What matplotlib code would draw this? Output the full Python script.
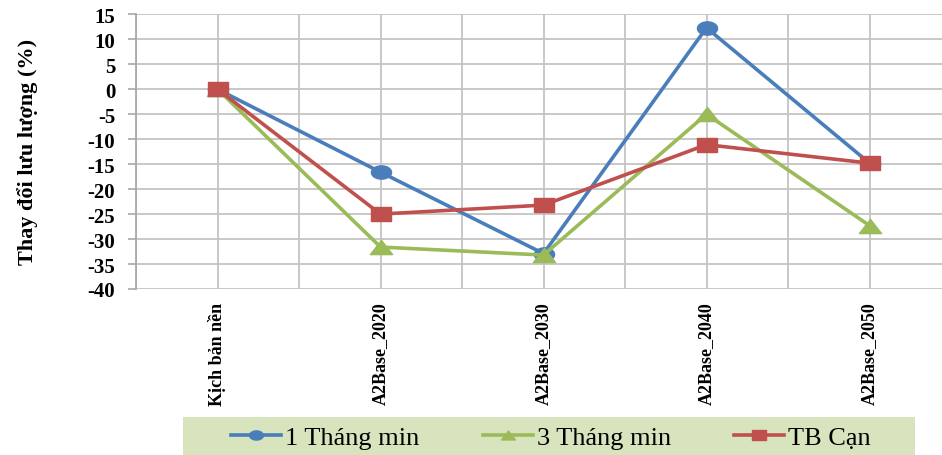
import numpy as np
import matplotlib
matplotlib.use("Agg")
import matplotlib.pyplot as plt
from matplotlib.path import Path

plt.rcParams['font.family'] = ['Liberation Serif', 'DejaVu Serif']
plt.rcParams['axes.unicode_minus'] = False

# kịch bản và thay đổi lưu lượng (%)
scenarios = ["Kịch bản nền", "A2Base_2020", "A2Base_2030", "A2Base_2040", "A2Base_2050"]
thang1_min = [0, -16.6, -32.9, 12.3, -14.8]
thang3_min = [0, -31.6, -33.2, -5.0, -27.3]
tb_can = [0, -25.0, -23.2, -11.1, -14.8]

series_names = ["1 Tháng min", "3 Tháng min", "TB Cạn"]
colors = ["#4a7ebb", "#9bbb59", "#c0504d"]

# marker dẹt theo chiều ngang
t = np.linspace(0, 2 * np.pi, 40)
ellipse = Path(np.column_stack([np.cos(t), 0.66 * np.sin(t)]), closed=True)
rect = Path([(-1, -0.68), (1, -0.68), (1, 0.68), (-1, 0.68), (-1, -0.68)], closed=True)
tri = Path([(-1, -0.64), (1, -0.64), (0, 0.64), (-1, -0.64)], closed=True)
markers = [ellipse, tri, rect]
msizes = [14.5, 16, 14.5]

fig = plt.figure(figsize=(9.42, 4.56), dpi=100)
ax = fig.add_axes([136 / 942, 1 - 290 / 456, 815 / 942, 274.7 / 456])

x = np.arange(len(scenarios))
for vals, name, c, m, ms in zip([thang1_min, thang3_min, tb_can], series_names, colors, markers, msizes):
    ax.plot(x, vals, color=c, lw=2.6, marker=m, markersize=ms, label=name, clip_on=False)

ax.set_xlim(-0.5, len(scenarios) - 0.5)
ax.set_ylim(-40, 15)
ax.set_yticks(np.arange(-40, 16, 5))
ax.set_xticks(x)
ax.set_xticks(np.arange(-0.5, len(scenarios), 1), minor=True)
ax.set_xticklabels(scenarios, rotation=90, fontsize=13, fontweight='bold', va='top', ha='center')
for lbl in ax.get_yticklabels():
    lbl.set_fontweight('bold')
    lbl.set_fontsize(15)

ax.grid(True, which='both', color='#c4c4c4', lw=1.3)
ax.set_axisbelow(True)
for s in ['top', 'right', 'bottom']:
    ax.spines[s].set_visible(False)
ax.spines['left'].set_color('#a8a8a8')
ax.spines['left'].set_linewidth(1.3)
ax.tick_params(axis='y', length=6, color='#a8a8a8', width=1.2, pad=9)
ax.tick_params(axis='x', which='both', length=0, pad=9)

fig.text(28 / 942, 1 - 152 / 456, "Thay đổi lưu lượng (%)", rotation=90,
         fontsize=16, fontweight='bold', ha='center', va='center')

# chú thích nền xanh nhạt phía dưới
fig.patches.append(plt.Rectangle((183 / 942, 0), (915 - 183) / 942, 38 / 456,
                                 transform=fig.transFigure, facecolor='#d7e4bd',
                                 edgecolor='none', zorder=0))
handles, labels = ax.get_legend_handles_labels()
leg = fig.legend(handles, labels, loc='center', bbox_to_anchor=(551 / 942, 18 / 456),
                 ncol=3, frameon=False, fontsize=19, handlelength=1.9,
                 columnspacing=2.4, handletextpad=0.15)
for h in leg.legend_handles:
    h.set_markersize(10)

fig.savefig("out.png", dpi=100)
